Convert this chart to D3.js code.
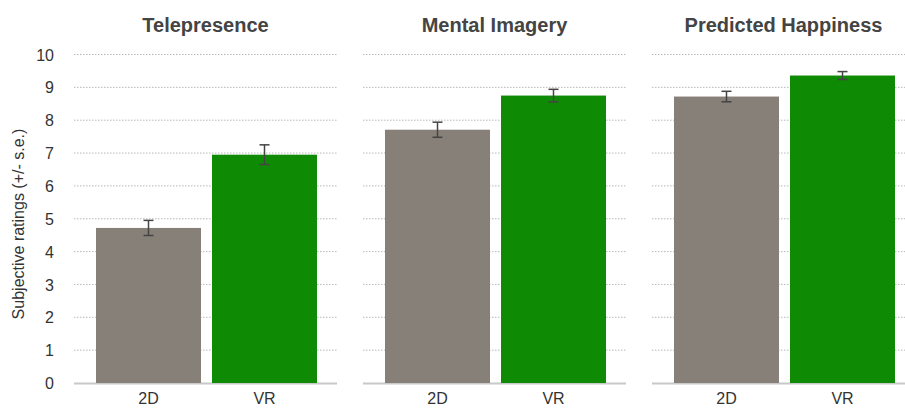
<!DOCTYPE html>
<html><head><meta charset="utf-8">
<script src="https://cdn.jsdelivr.net/npm/d3@7"></script>
<style>body{margin:0;background:#fff;} svg{display:block;font-family:"Liberation Sans",Arial,sans-serif;}</style>
</head><body>
<svg id="c" width="905" height="408"></svg>
<script>
const panels = ["Telepresence", "Mental Imagery", "Predicted Happiness"];
const conditions = ["2D", "VR"];
const means2D = [4.72, 7.71, 8.72];
const meansVR = [6.95, 8.75, 9.36];
const se2D = [0.23, 0.23, 0.16];
const seVR = [0.30, 0.19, 0.12];
const yTicks = [0,1,2,3,4,5,6,7,8,9,10];
const colors = {"2D": "#878079", "VR": "#0f8a04"};
const yLabel = "Subjective ratings (+/- s.e.)";

const svg = d3.select("#c");
const y = d3.scaleLinear().domain([0,10]).range([383, 54.5]);
const panelX = d3.scaleBand().domain(panels).range([74, 74 + 289*3]).paddingInner(0);
const panelW = 263;
const x = d3.scaleBand().domain(conditions).range([22, 243]).paddingInner(11/116).paddingOuter(0);

// y axis labels
const yAxis = d3.axisLeft(y).tickValues(yTicks).tickSize(0).tickPadding(0).tickFormat(d3.format("d"));
const ya = svg.append("g").attr("transform", "translate(54,0)").call(yAxis);
ya.select(".domain").remove();
ya.selectAll("text").attr("font-size", 16).attr("fill", "#333").attr("font-family", "Liberation Sans, Arial, sans-serif").attr("dy", "0.35em");

svg.append("text").attr("transform", "translate(24,224) rotate(-90)")
  .attr("text-anchor", "middle").attr("font-size", 16).attr("fill", "#333").text(yLabel);

panels.forEach((p, i) => {
  const g = svg.append("g").attr("transform", `translate(${panelX(p)},0)`);
  // gridlines
  g.selectAll("line.grid").data(yTicks.filter(t => t > 0)).join("line")
    .attr("x1", 0).attr("x2", panelW).attr("y1", d => y(d)).attr("y2", d => y(d))
    .attr("stroke", "#b8b8b8").attr("stroke-width", 1).attr("stroke-dasharray", "1.5,1.5");
  // baseline
  g.append("line").attr("x1", 0).attr("x2", panelW).attr("y1", y(0)+0.5).attr("y2", y(0)+0.5)
    .attr("stroke", "#c8c8c8").attr("stroke-width", 2);
  const data = [
    {c: "2D", v: means2D[i], se: se2D[i]},
    {c: "VR", v: meansVR[i], se: seVR[i]}
  ];
  g.selectAll("rect.bar").data(data).join("rect")
    .attr("x", d => x(d.c)).attr("width", x.bandwidth())
    .attr("y", d => y(d.v)).attr("height", d => y(0) - y(d.v))
    .attr("fill", d => colors[d.c]);
  // error bars
  const eb = g.selectAll("g.eb").data(data).join("g");
  eb.append("line").attr("x1", d => x(d.c) + x.bandwidth()/2).attr("x2", d => x(d.c) + x.bandwidth()/2)
    .attr("y1", d => y(d.v + d.se)).attr("y2", d => y(d.v - d.se)).attr("stroke", "#444").attr("stroke-width", 1.5);
  eb.append("line").attr("x1", d => x(d.c) + x.bandwidth()/2 - 5).attr("x2", d => x(d.c) + x.bandwidth()/2 + 5)
    .attr("y1", d => y(d.v + d.se)).attr("y2", d => y(d.v + d.se)).attr("stroke", "#444").attr("stroke-width", 1.5);
  eb.append("line").attr("x1", d => x(d.c) + x.bandwidth()/2 - 5).attr("x2", d => x(d.c) + x.bandwidth()/2 + 5)
    .attr("y1", d => y(d.v - d.se)).attr("y2", d => y(d.v - d.se)).attr("stroke", "#444").attr("stroke-width", 1.5);
  // x labels
  const xa = g.append("g").attr("transform", `translate(0,${y(0)})`)
    .call(d3.axisBottom(x).tickSize(0).tickPadding(9.5));
  xa.select(".domain").remove();
  xa.selectAll("text").attr("font-size", 16).attr("fill", "#333").attr("font-family", "Liberation Sans, Arial, sans-serif");
  // title
  g.append("text").attr("x", panelW/2).attr("y", 32).attr("text-anchor", "middle")
    .attr("font-size", 20).attr("font-weight", "bold").attr("fill", "#444").text(p);
});
</script>
</body></html>
